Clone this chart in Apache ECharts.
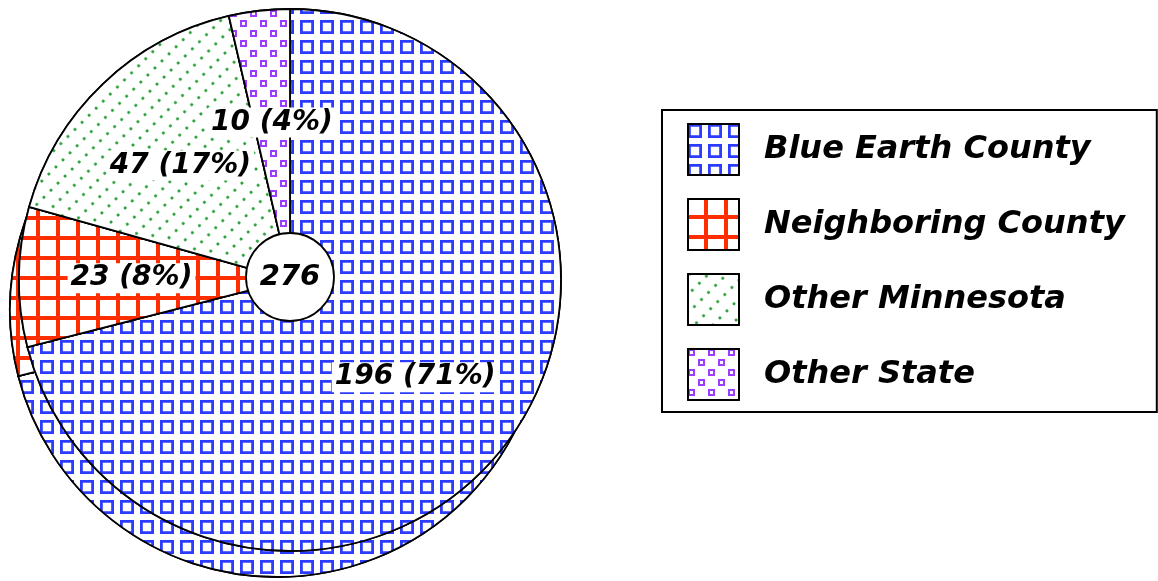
<!DOCTYPE html>
<html>
<head>
<meta charset="utf-8">
<script src="https://cdn.jsdelivr.net/npm/echarts@6/dist/echarts.min.js"></script>
<style>
  html, body { margin: 0; padding: 0; background: #fff; }
  #chart { width: 1158px; height: 581px; }
</style>
</head>
<body>
<div id="chart"></div>
<script>
// ---- data ----
const categories = ['Blue Earth County', 'Neighboring County', 'Other Minnesota', 'Other State'];
const counts = [196, 23, 47, 10];
const totalResponses = [276];

// ---- styles ----
const FONT = '"DejaVu Sans", Verdana, sans-serif';
const hollowSquare = 'path://M0 0H10V10H0Z M2 2V8H8V2Z';
// two staggered hollow squares in one 17x17 tile (checkerboard of 10px cells)
const staggeredSquares = 'path://M0 0H7V7H0Z M2 2V5H5V2Z M10 10H17V17H10Z M12 12V15H15V12Z';
const styles = [
  { color: '#ffffff', decal: { symbol: hollowSquare, symbolSize: 1, symbolKeepAspect: false, color: '#2b3cff', backgroundColor: '#ffffff',
      dashArrayX: [14, 6], dashArrayY: [14, 6], rotation: 0 } },
  { color: '#ff2e00', decal: { symbol: 'rect', symbolSize: 1, symbolKeepAspect: false, color: '#ffffff', backgroundColor: '#ff2e00',
      dashArrayX: [16, 4], dashArrayY: [16, 4], rotation: 0 } },
  { color: '#ffffff', decal: { symbol: 'circle', symbolSize: 1, symbolKeepAspect: true, color: '#1a9a2a', backgroundColor: '#ffffff',
      dashArrayX: [2.5, 6.5], dashArrayY: [2.5, 9.5], rotation: -Math.PI / 4 } },
  { color: '#ffffff', decal: { symbol: staggeredSquares, symbolSize: 1, symbolKeepAspect: false, color: '#9b3cff', backgroundColor: '#ffffff',
      dashArrayX: [17, 3], dashArrayY: [17, 3], rotation: 0 } }
];

function buildData() {
  return categories.map((name, i) => ({
    name: name,
    value: counts[i],
    itemStyle: { color: styles[i].color, decal: styles[i].decal, borderColor: '#000', borderWidth: 1.8 }
  }));
}

const chart = echarts.init(document.getElementById('chart'), null, { renderer: 'canvas' });
chart.setOption({
  animation: false,
  backgroundColor: '#ffffff',
  legend: {
    orient: 'vertical',
    left: 662,
    top: 110,
    data: categories,
    backgroundColor: '#ffffff',
    borderColor: '#000',
    borderWidth: 2,
    borderRadius: 0,
    padding: [13, 32, 11, 25],
    itemWidth: 51,
    itemHeight: 51,
    itemGap: 22,
    icon: 'rect',
    selectedMode: false,
    itemStyle: { borderColor: '#000', borderWidth: 2 },
    textStyle: {
      color: '#000',
      fontFamily: FONT,
      fontWeight: 'bold',
      fontStyle: 'italic',
      fontSize: 32,
      padding: [0, 0, 0, 20]
    }
  },
  series: [
    {
      // extruded side of the pie
      type: 'pie',
      silent: true,
      center: [277, 310],
      radius: [0, 267],
      startAngle: 90,
      clockwise: true,
      label: { show: false },
      labelLine: { show: false },
      emphasis: { disabled: true },
      data: buildData()
    },
    {
      // top face
      type: 'pie',
      silent: true,
      center: [290, 280],
      radius: [40, 271],
      startAngle: 90,
      clockwise: true,
      percentPrecision: 0,
      avoidLabelOverlap: false,
      emphasis: { disabled: true },
      labelLine: { show: false },
      label: {
        show: true,
        position: 'inside',
        formatter: '{c} ({d}%)',
        color: '#000',
        fontFamily: FONT,
        fontWeight: 'bold',
        fontStyle: 'italic',
        fontSize: 28,
        backgroundColor: '#ffffff',
        padding: [2, 3, 0, 3]
      },
      data: buildData()
    },
    {
      // centre disc with total
      type: 'pie',
      silent: true,
      center: [290, 277],
      radius: [0, 44],
      emphasis: { disabled: true },
      labelLine: { show: false },
      label: {
        show: true,
        position: 'center',
        formatter: '{c}',
        color: '#000',
        fontFamily: FONT,
        fontWeight: 'bold',
        fontStyle: 'italic',
        fontSize: 29
      },
      data: [{ name: 'Total', value: totalResponses[0],
               itemStyle: { color: '#ffffff', borderColor: '#000', borderWidth: 1.8 } }]
    }
  ]
});
</script>
</body>
</html>
